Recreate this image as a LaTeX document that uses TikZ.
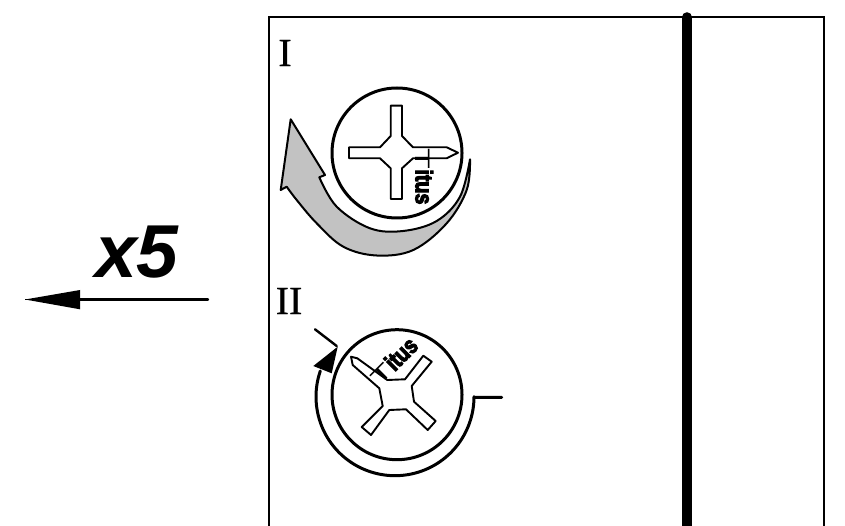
\documentclass[tikz,border=0pt]{standalone}
\usepackage{graphicx}
\usepackage{fontspec}
\setmainfont{Liberation Sans}
\newfontfamily\serifface[FakeBold=0.6]{Liberation Serif}
\newfontfamily\heavyface[FakeBold=5]{Liberation Sans Bold}
\newcommand{\brandname}{{\fontsize{21}{21}\selectfont\scalebox{1.62}[1]{T}{\heavyface\fontsize{24}{24}\selectfont\scalebox{0.82}[1]{itus}}}}
\tikzset{
  thinline/.style={draw=black,line width=1.9pt,line join=round},
  headcircle/.style={circle,draw=black,line width=3pt,minimum size=130pt,inner sep=0pt},
  romanlabel/.style={inner sep=0pt,font=\serifface\fontsize{40}{40}\selectfont},
  brand/.style={inner sep=0pt,anchor=base},
}
\begin{document}
\begin{tikzpicture}[x=1pt,y=-1pt]
\useasboundingbox (0,0) rectangle (845,526);
\clip (0,0) rectangle (845,526);
% frame and bar
\draw[line width=1.8pt] (269,530) -- (269,17) -- (824,17) -- (824,530);
\coordinate (bartop) at (687,17);
\coordinate (barbot) at (687,540);
\draw[line width=9.5pt,line cap=round] (bartop) -- (barbot);
% labels
\node[romanlabel] (lone) at (285,53) {I};
\node[romanlabel] (ltwo) at (289,301) {II};
% x5
\node[inner sep=0pt,anchor=base,font=\bfseries\itshape\fontsize{75}{75}\selectfont] (times) at (137,278) {x5};
\coordinate (arrstart) at (208,299.5);
\coordinate (arrbase) at (80,299.5);
\coordinate (arrtip) at (25,299.5);
\draw[line width=2.4pt,line cap=round] (arrstart) -- (arrbase);
\fill (arrtip) -- (80,290) -- (80,309.3) -- cycle;
\draw[line width=1.5pt] (arrtip) -- (40,299.5);
% upper gray arrow
\draw[fill=black!24,line width=2pt,line join=round]
  (290.7,119.3) -- (325,175) -- (319.3,177.3)
  -- plot[smooth,tension=0.6] coordinates {(319.3,177.3) (336.7,206.7) (370,228.3) (403,231) (436.7,221) (460,196.7) (470,159.3)}
  -- plot[smooth,tension=0.6] coordinates {(470,159.3) (466.7,190) (446.7,223.3) (413.3,250) (376.7,255.5) (343.3,246.7) (316.7,223.3) (296.7,200) (286.7,186.7)}
  -- (280.7,190) -- cycle;
% upper head
\node[headcircle] (head1) at (397,153) {};
\draw[thinline] (390.7,105.7) -- (402,105.7) -- (402,136) -- (413,147.3) -- (446.7,147.3) -- (458,152.7) -- (446.7,158.3) -- (413,158.3) -- (402,168.3) -- (402,199) -- (390.7,199) -- (390.7,168.3) -- (380,158.3) -- (349,158.3) -- (349,147.3) -- (380,147.3) -- (390.7,136) -- cycle;
\node[brand,rotate=-90] (brand1) at (415.7,176.5) {\brandname};
% lower head
\node[headcircle] (head2) at (397,394.7) {};
\draw[thinline] (351,356.7) -- (357.3,358.3) -- (387.3,380) -- (405,379.3) -- (423.3,355.7) -- (431.7,361.7) -- (411.7,386) -- (414,401.7) -- (435.7,421) -- (427.7,430) -- (406,409.3) -- (389.3,410) -- (371,435) -- (361.7,427) -- (382.7,406) -- (379.3,388.3) -- (352.7,365) -- cycle;
\node[brand,rotate=45] (brand2) at (399.7,367) {\brandname};
% lower arrow
\coordinate (stubend) at (501.7,397.3);
\coordinate (arcstart) at (474,397.3);
\draw[line width=3pt,line join=round,line cap=round] (stubend) -- (arcstart)
  -- plot[domain=0:199,samples=80] ({395+79*cos(\x)},{396.7+79*sin(\x)});
\fill (337.7,346.7) -- (313.3,366) -- (331.7,373.3) -- cycle;
\coordinate (barbstart) at (315,329.3);
\coordinate (barbend) at (336.7,346);
\draw[line width=2.4pt,line cap=round] (barbstart) -- (barbend);
\end{tikzpicture}
\end{document}
